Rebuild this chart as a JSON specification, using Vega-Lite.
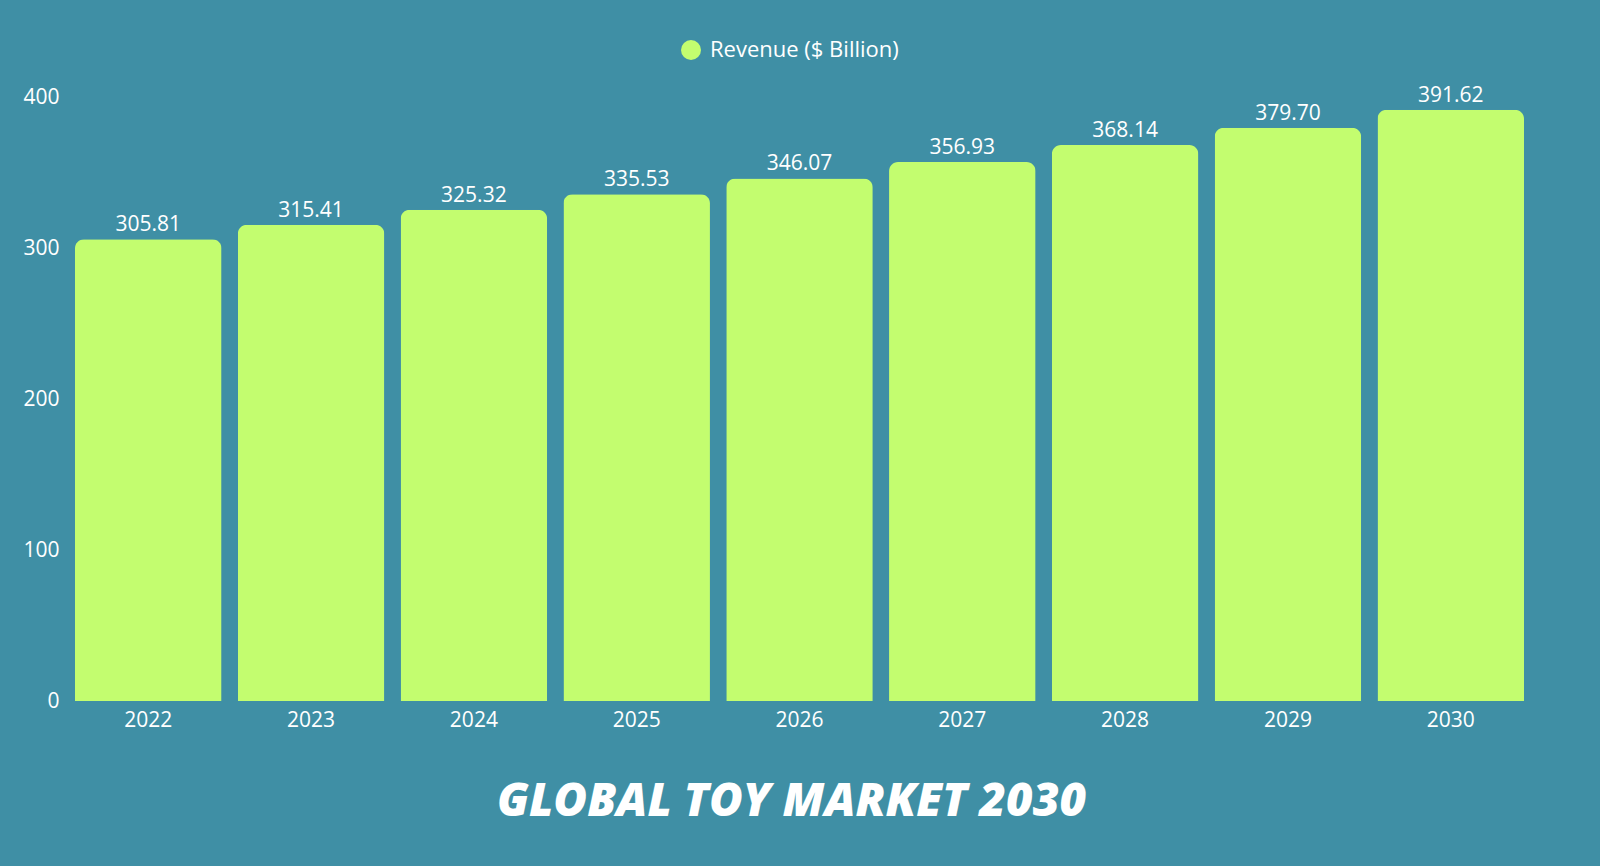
{
  "$schema": "https://vega.github.io/schema/vega-lite/v6.json",
  "width": 1449,
  "height": 604,
  "autosize": {"type": "none"},
  "padding": {"left": 75, "top": 97, "right": 76, "bottom": 165},
  "background": "#3F8FA5",
  "view": {"stroke": null},
  "title": {
    "text": "GLOBAL TOY MARKET 2030",
    "orient": "bottom",
    "anchor": "middle",
    "offset": 50,
    "dx": -8,
    "font": "Open Sans",
    "fontSize": 46,
    "fontStyle": "italic",
    "fontWeight": 800,
    "color": "#FFFFFF"
  },
  "data": {
    "values": [
      {"year": "2022", "revenue": 305.81, "series": "Revenue ($ Billion)"},
      {"year": "2023", "revenue": 315.41, "series": "Revenue ($ Billion)"},
      {"year": "2024", "revenue": 325.32, "series": "Revenue ($ Billion)"},
      {"year": "2025", "revenue": 335.53, "series": "Revenue ($ Billion)"},
      {"year": "2026", "revenue": 346.07, "series": "Revenue ($ Billion)"},
      {"year": "2027", "revenue": 356.93, "series": "Revenue ($ Billion)"},
      {"year": "2028", "revenue": 368.14, "series": "Revenue ($ Billion)"},
      {"year": "2029", "revenue": 379.70, "series": "Revenue ($ Billion)"},
      {"year": "2030", "revenue": 391.62, "series": "Revenue ($ Billion)"}
    ]
  },
  "encoding": {
    "x": {
      "field": "year",
      "type": "nominal",
      "title": null,
      "scale": {"paddingInner": 0.1, "paddingOuter": 0.0},
      "axis": {
        "labelAngle": 0,
        "domain": false,
        "ticks": false,
        "labelPadding": 8,
        "labelFontSize": 21,
        "labelFont": "Open Sans",
        "labelColor": "#FFFFFF"
      }
    },
    "y": {
      "field": "revenue",
      "type": "quantitative",
      "title": null,
      "scale": {"domain": [0, 400]},
      "axis": {
        "values": [0, 100, 200, 300, 400],
        "grid": false,
        "domain": false,
        "ticks": false,
        "labelPadding": 16,
        "labelFontSize": 21,
        "labelFont": "Open Sans",
        "labelColor": "#FFFFFF"
      }
    }
  },
  "layer": [
    {
      "mark": {"type": "bar", "cornerRadiusTopLeft": 9, "cornerRadiusTopRight": 9},
      "encoding": {
        "color": {
          "field": "series",
          "type": "nominal",
          "scale": {"range": ["#C3FD6F"]},
          "legend": {
            "title": null,
            "orient": "none",
            "legendX": 605,
            "legendY": -58,
            "symbolType": "circle",
            "symbolSize": 400,
            "labelFontSize": 22,
            "labelFont": "Open Sans",
            "labelColor": "#FFFFFF",
            "labelLimit": 0,
            "labelOffset": 8
          }
        }
      }
    },
    {
      "mark": {
        "type": "text",
        "dy": -14,
        "fontSize": 21,
        "font": "Open Sans",
        "color": "#FFFFFF"
      },
      "encoding": {
        "text": {"field": "revenue", "type": "quantitative", "format": ".2f"}
      }
    }
  ]
}
